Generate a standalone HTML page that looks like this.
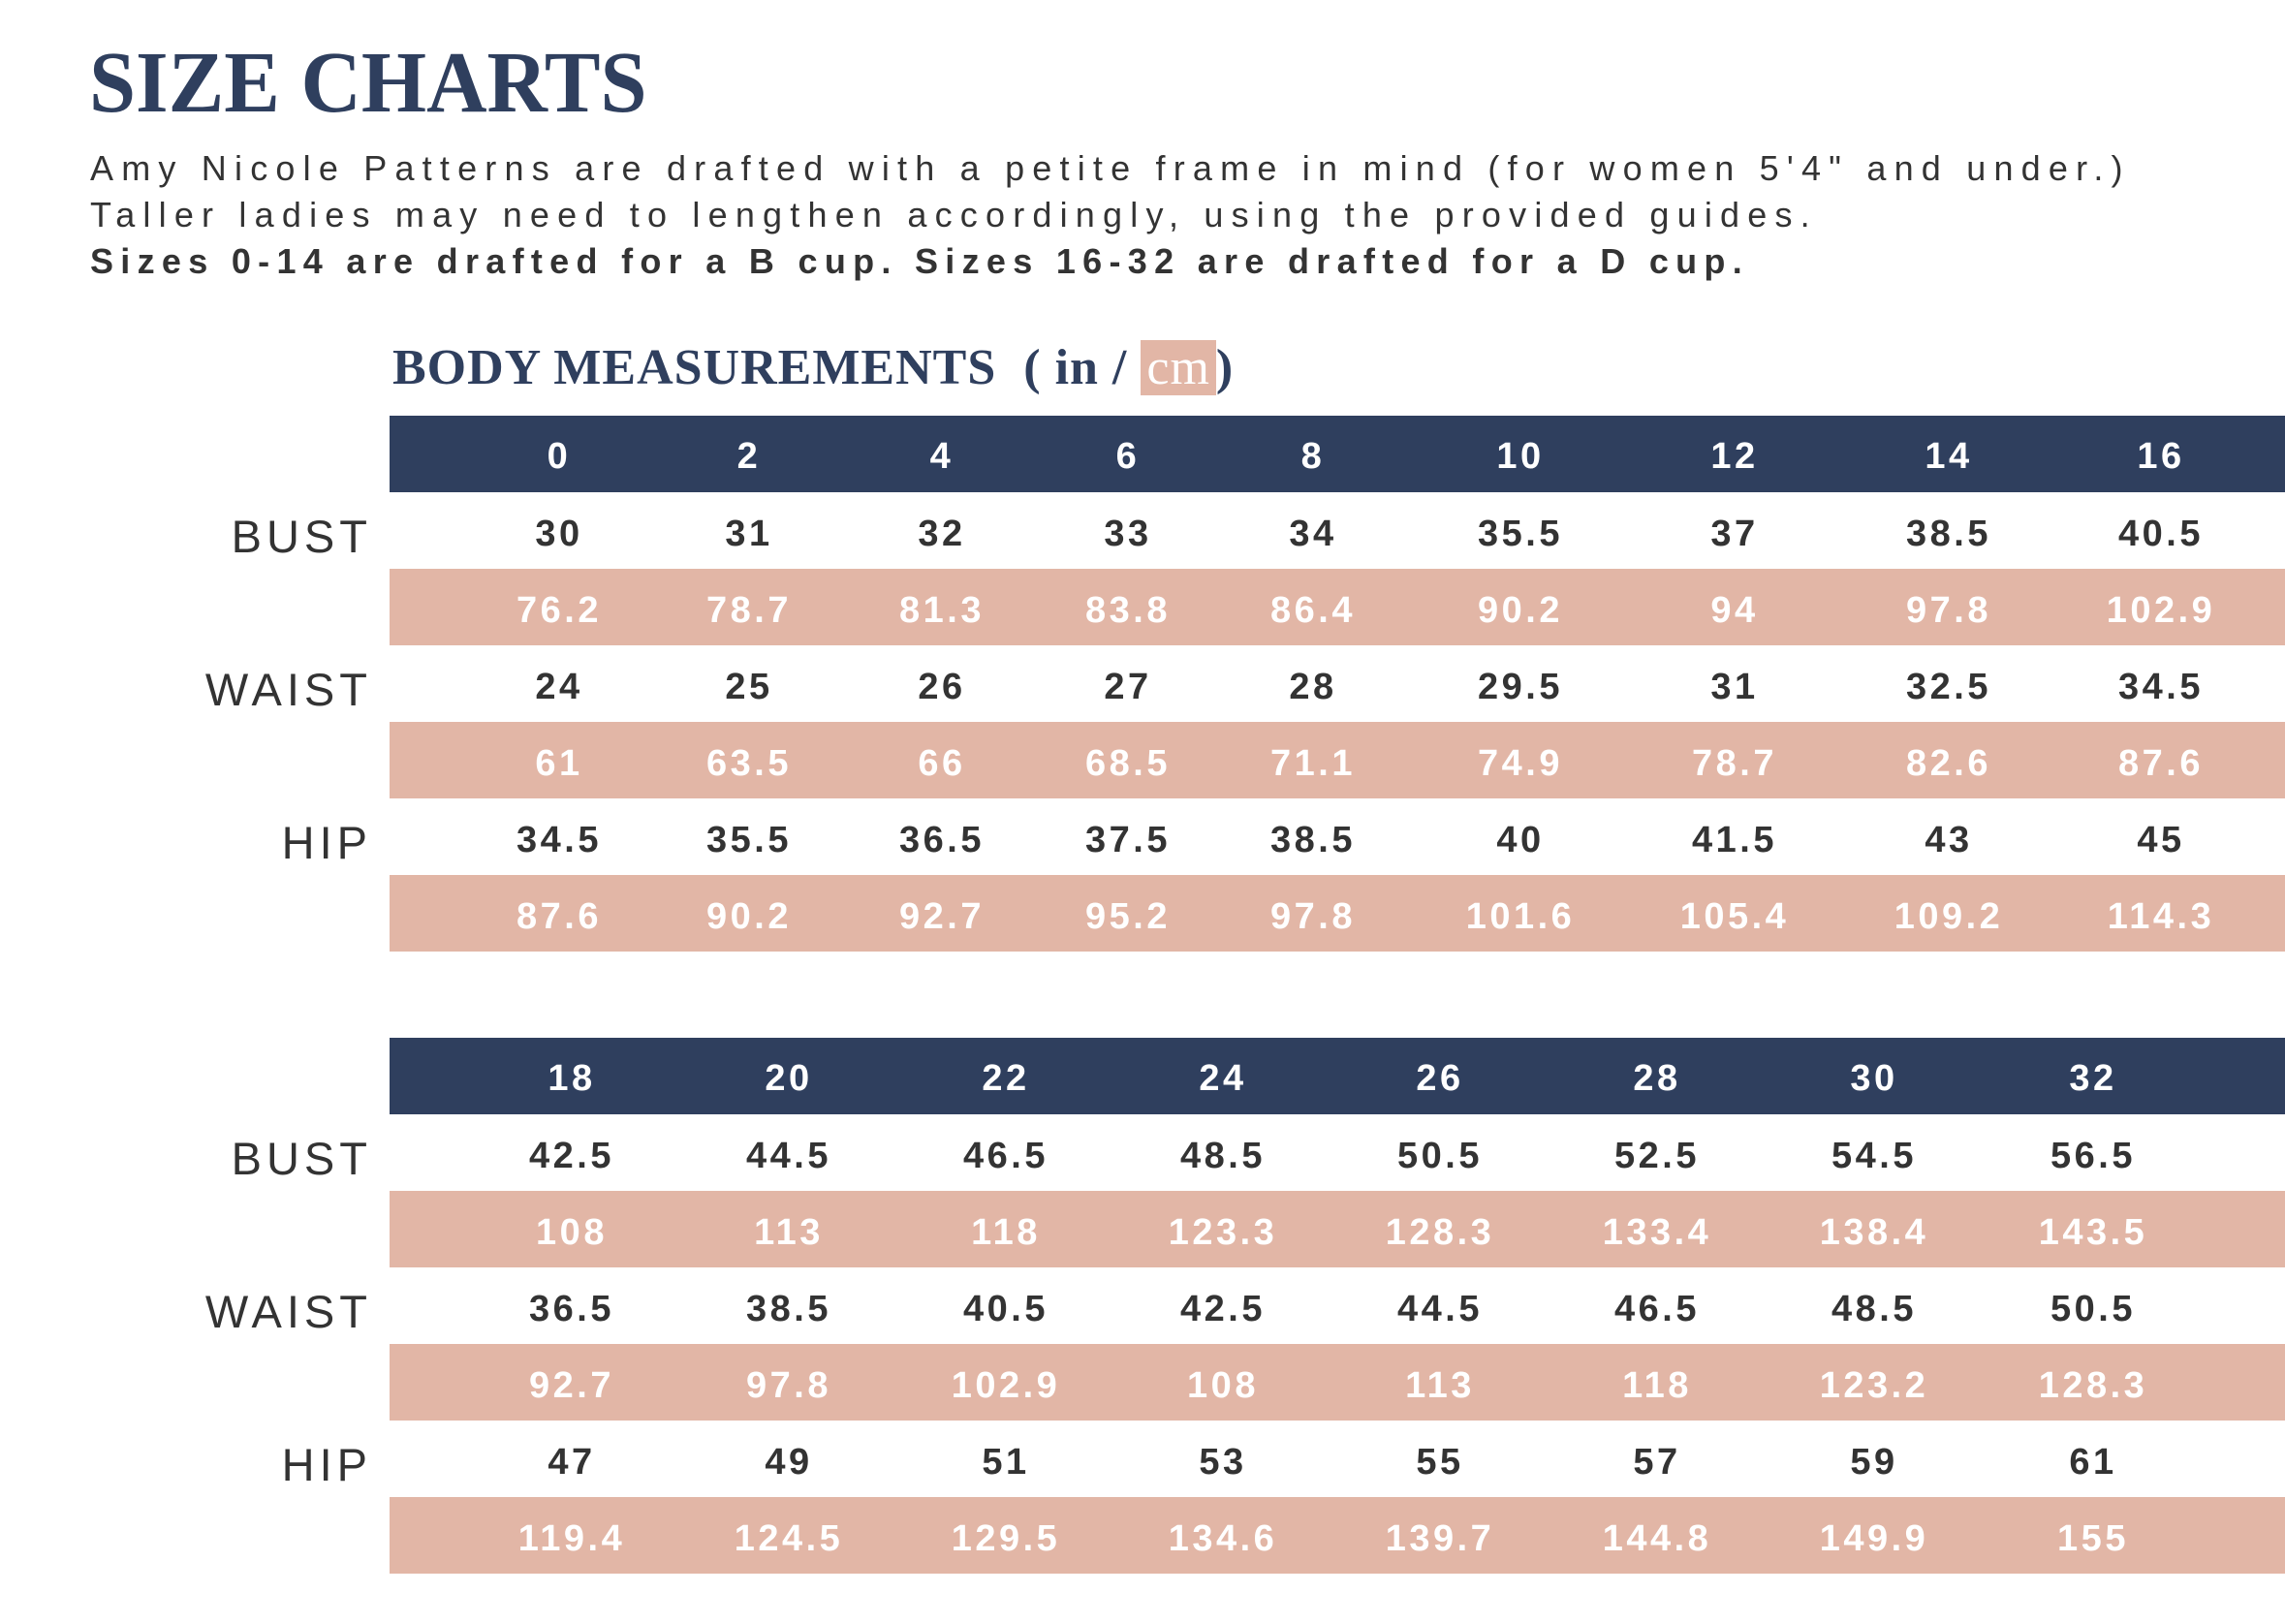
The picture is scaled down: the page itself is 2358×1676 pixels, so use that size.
<!DOCTYPE html>
<html><head><meta charset="utf-8"><style>
body{margin:0;width:2358px;height:1676px;background:#fff;position:relative;overflow:hidden;font-family:"Liberation Sans",sans-serif;}
.t{position:absolute;white-space:nowrap}
.bar{position:absolute;left:402px;right:0}
.navy{background:#2f3f5e}
.pink{background:#e2b6a6}
.n{position:absolute;width:220px;margin-left:-110px;text-align:center;font-weight:bold;font-size:38px;letter-spacing:3.5px;line-height:79px}
.lbl{position:absolute;right:1974px;font-size:47px;letter-spacing:5px;color:#333;line-height:79px}
</style></head><body>
<div class="t" style="left:92px;top:34px;font-family:'Liberation Serif',serif;font-weight:bold;font-size:90px;color:#2f3f5e;transform:scaleX(0.96);transform-origin:left">SIZE CHARTS</div>
<div class="t" style="left:93px;top:150px;font-size:36px;letter-spacing:8.2px;color:#333;line-height:48px">Amy Nicole Patterns are drafted with a petite frame in mind (for women 5'4" and under.)<br>Taller ladies may need to lengthen accordingly, using the provided guides.<br><b style="letter-spacing:7.3px">Sizes 0-14 are drafted for a B cup. Sizes 16-32 are drafted for a D cup.</b></div>
<div class="t" style="left:405px;top:350px;font-family:'Liberation Serif',serif;font-weight:bold;font-size:52px;letter-spacing:1px;color:#2f3f5e;">BODY MEASUREMENTS &nbsp;( in / <span style="background:#e2b6a6;color:#fff;font-weight:normal;padding:0 6px">cm</span>)</div>
<script>
function tbl(top,cols,head,rows){
 let h='';
 h+=`<div class="bar navy" style="top:${top}px;height:79px"></div>`;
 for(let r=0;r<6;r++) if(r%2==1) h+=`<div class="bar pink" style="top:${top+79*(r+1)}px;height:79px"></div>`;
 head.forEach((v,i)=>h+=`<div class="n" style="left:${cols[i]}px;top:${top+3}px;color:#fff">${v}</div>`);
 const labs=['BUST','WAIST','HIP'];
 rows.forEach((row,r)=>{
  if(r%2==0) h+=`<div class="lbl" style="top:${top+79*(r+1)+6}px">${labs[r/2]}</div>`;
  row.forEach((v,i)=>h+=`<div class="n" style="left:${cols[i]}px;top:${top+79*(r+1)+4}px;color:${r%2?'#fff':'#333'}">${v}</div>`);
 });
 document.body.insertAdjacentHTML('beforeend',h);
}
tbl(429,[577,773,972,1164,1355,1569,1790,2011,2230],[0,2,4,6,8,10,12,14,16],[
['30','31','32','33','34','35.5','37','38.5','40.5'],
['76.2','78.7','81.3','83.8','86.4','90.2','94','97.8','102.9'],
['24','25','26','27','28','29.5','31','32.5','34.5'],
['61','63.5','66','68.5','71.1','74.9','78.7','82.6','87.6'],
['34.5','35.5','36.5','37.5','38.5','40','41.5','43','45'],
['87.6','90.2','92.7','95.2','97.8','101.6','105.4','109.2','114.3']]);
tbl(1071,[590,814,1038,1262,1486,1710,1934,2160],[18,20,22,24,26,28,30,32],[
['42.5','44.5','46.5','48.5','50.5','52.5','54.5','56.5'],
['108','113','118','123.3','128.3','133.4','138.4','143.5'],
['36.5','38.5','40.5','42.5','44.5','46.5','48.5','50.5'],
['92.7','97.8','102.9','108','113','118','123.2','128.3'],
['47','49','51','53','55','57','59','61'],
['119.4','124.5','129.5','134.6','139.7','144.8','149.9','155']]);
</script>
</body></html>
